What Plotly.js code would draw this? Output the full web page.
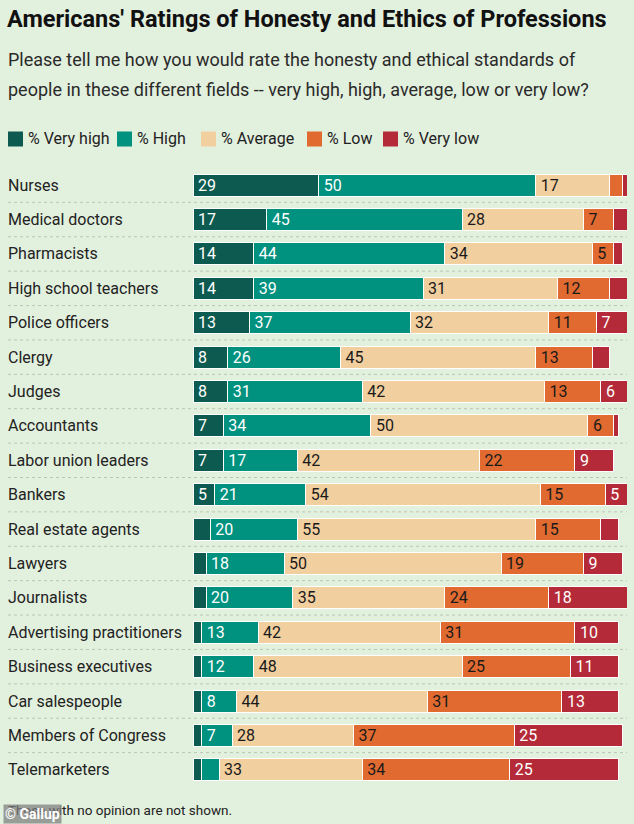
<!DOCTYPE html>
<html>
<head>
<meta charset="utf-8">
<script src="https://cdn.plot.ly/plotly-3.0.1.min.js"></script>
<style>
  html, body { margin: 0; padding: 0; background: #e2f0de; }
  #chart { width: 634px; height: 824px; }
</style>
</head>
<body>
<div id="chart"></div>
<script>
// ---------- Data ----------
const categories = [
  "Nurses", "Medical doctors", "Pharmacists", "High school teachers",
  "Police officers", "Clergy", "Judges", "Accountants",
  "Labor union leaders", "Bankers", "Real estate agents", "Lawyers",
  "Journalists", "Advertising practitioners", "Business executives",
  "Car salespeople", "Members of Congress", "Telemarketers"
];
const veryHigh = [29, 17, 14, 14, 13, 8, 8, 7, 7, 5, 4, 3, 3, 2, 2, 2, 2, 2];
const high     = [50, 45, 44, 39, 37, 26, 31, 34, 17, 21, 20, 18, 20, 13, 12, 8, 7, 4];
const average  = [17, 28, 34, 31, 32, 45, 42, 50, 42, 54, 55, 50, 35, 42, 48, 44, 28, 33];
const low      = [3, 7, 5, 12, 11, 13, 13, 6, 22, 15, 15, 19, 24, 31, 25, 31, 37, 34];
const veryLow  = [1, 3, 2, 4, 7, 4, 6, 1, 9, 5, 4, 9, 18, 10, 11, 13, 25, 25];

const seriesNames = ["% Very high", "% High", "% Average", "% Low", "% Very low"];
const titleText = "Americans' Ratings of Honesty and Ethics of Professions";
const subtitleLines = [
  "Please tell me how you would rate the honesty and ethical standards of",
  "people in these different fields -- very high, high, average, low or very low?"
];
const footnote = "Those with no opinion are not shown.";
const credit = "© Gallup";

// ---------- Styles ----------
const seriesValues = [veryHigh, high, average, low, veryLow];
const colors = ["#0d5a50", "#01917f", "#f2cf9f", "#e06a30", "#b42a38"];
const textColors = ["#ffffff", "#ffffff", "#1a1a1a", "#1a1a1a", "#ffffff"];
const BG = "#e2f0de";
const FONT = "Roboto, 'Liberation Sans', sans-serif";

// Layout geometry (pixels)
const WIDTH = 634, HEIGHT = 824;
const L = 193, R = 7, T = 168, B = 37;
const PW = WIDTH - L - R, PH = HEIGHT - T - B;
const px2x = px => (px - L) / PW;
const px2y = py => (T + PH - py) / PH;

const traces = seriesValues.map((vals, k) => ({
  type: "bar",
  orientation: "h",
  name: seriesNames[k],
  y: categories,
  x: vals,
  text: vals.map(v => (v >= 5 ? "\u202F" + String(v) : "")),
  textposition: "inside",
  insidetextanchor: "start",
  constraintext: "none",
  textangle: 0,
  insidetextfont: { family: FONT, size: 16, color: textColors[k] },
  marker: { color: colors[k], line: { color: "#ffffff", width: 1 } },
  hoverinfo: "skip",
  showlegend: false
}));

const annotations = [];
const shapes = [];

// Category labels (left-aligned)
categories.forEach(c => {
  annotations.push({
    xref: "paper", yref: "y", x: px2x(6), y: c,
    xanchor: "left", yanchor: "middle", showarrow: false,
    text: c, font: { family: FONT, size: 16, color: "#222" }
  });
});

// Dotted separators between rows
for (let i = 0; i < categories.length - 1; i++) {
  shapes.push({
    type: "line", xref: "paper", yref: "y",
    x0: px2x(8), x1: px2x(627), y0: i + 0.5, y1: i + 0.5,
    line: { color: "#b9c6b6", width: 1, dash: "dot" }, layer: "below"
  });
}

// Subtitle lines
const subY = [60, 90];
subtitleLines.forEach((s, i) => {
  annotations.push({
    xref: "paper", yref: "paper", x: px2x(6), y: px2y(subY[i]),
    xanchor: "left", yanchor: "middle", showarrow: false,
    text: s, font: { family: FONT, size: 18, color: "#2a2a2a" }
  });
});

// Custom legend
const legX = [8, 117, 201, 307, 383];
const legY = 139, sw = 15;
seriesNames.forEach((n, k) => {
  shapes.push({
    type: "rect", xref: "paper", yref: "paper",
    x0: px2x(legX[k]), x1: px2x(legX[k] + sw),
    y0: px2y(legY + sw / 2), y1: px2y(legY - sw / 2),
    fillcolor: colors[k], line: { width: 0 }
  });
  annotations.push({
    xref: "paper", yref: "paper", x: px2x(legX[k] + sw + 3), y: px2y(legY),
    xanchor: "left", yanchor: "middle", showarrow: false,
    text: n, font: { family: FONT, size: 16, color: "#222" }
  });
});

// Footnote and credit
annotations.push({
  xref: "paper", yref: "paper", x: px2x(6), y: px2y(810),
  xanchor: "left", yanchor: "middle", showarrow: false,
  text: footnote, font: { family: FONT, size: 13.5, color: "#222" }
});
annotations.push({
  xref: "paper", yref: "paper", x: px2x(3), y: px2y(824),
  xanchor: "left", yanchor: "bottom", showarrow: false,
  text: "<b>" + credit + "</b>", bgcolor: "rgba(125,125,125,0.72)",
  borderpad: 1, font: { family: FONT, size: 14, color: "#ffffff" }
});

const layout = {
  width: WIDTH, height: HEIGHT,
  margin: { l: L, r: R, t: T, b: B, pad: 0 },
  paper_bgcolor: BG, plot_bgcolor: BG,
  barmode: "stack",
  bargap: 0.36,
  title: {
    text: "<b>" + titleText + "</b>",
    xref: "container", yref: "container",
    x: 7 / WIDTH, xanchor: "left",
    y: 1 - 19 / HEIGHT, yanchor: "middle",
    font: { family: FONT, size: 23.5, color: "#111" }
  },
  xaxis: { range: [0, 100], visible: false, fixedrange: true },
  yaxis: {
    type: "category", range: [categories.length - 0.5, -0.5],
    showticklabels: false, showgrid: false, zeroline: false,
    ticks: "", fixedrange: true
  },
  showlegend: false,
  annotations: annotations,
  shapes: shapes,
  uniformtext: { mode: false }
};

Plotly.newPlot("chart", traces, layout, { staticPlot: true, displayModeBar: false });
</script>
</body>
</html>
